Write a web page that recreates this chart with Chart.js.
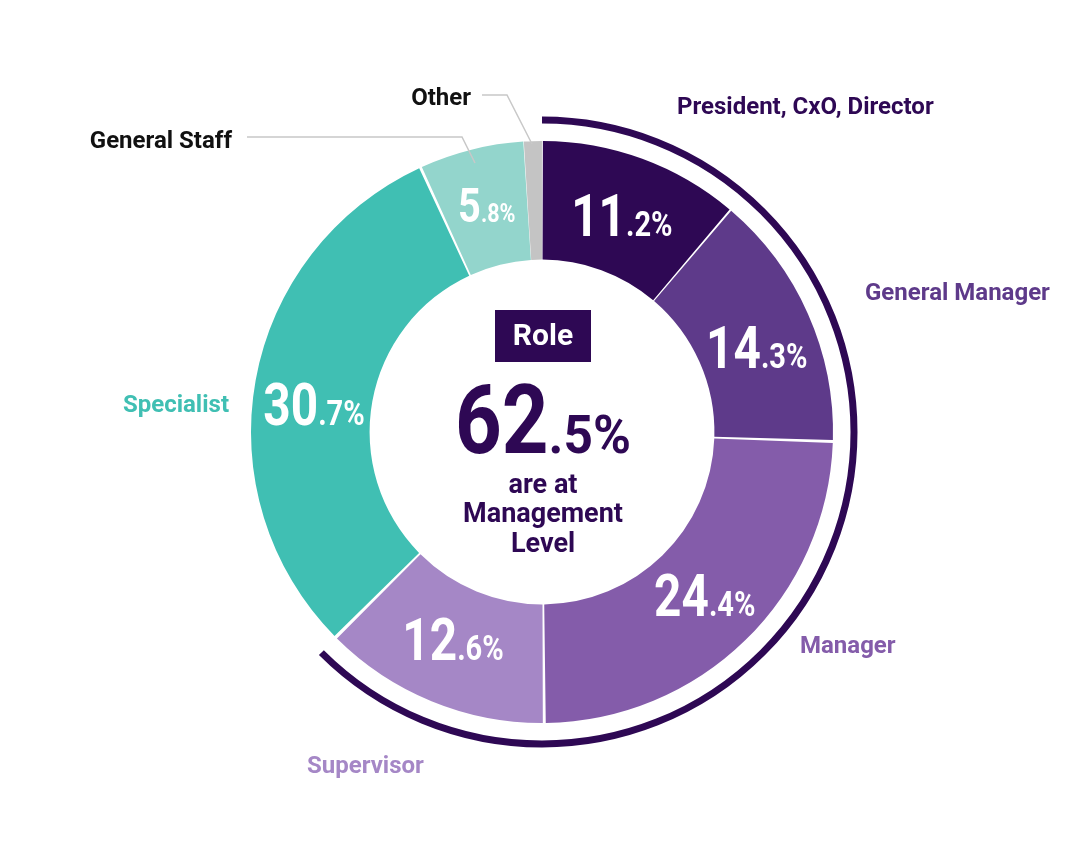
<!DOCTYPE html>
<html>
<head>
<meta charset="utf-8">
<script src="https://cdn.jsdelivr.net/npm/chart.js@4"></script>
<style>
  html, body { margin: 0; padding: 0; background: #fff; }
  #wrap { width: 1084px; height: 864px; }
</style>
</head>
<body>
<div id="wrap"><canvas id="roleChart" width="1084" height="864"></canvas></div>
<script>
// data
const roles = ["President, CxO, Director", "General Manager", "Manager", "Supervisor", "Specialist", "General Staff", "Other"];
const shares = [11.2, 14.3, 24.4, 12.6, 30.7, 5.8, 1.0];
const managementCount = 4; // first four roles are management
const colours = ["#2e0854", "#5e3a8a", "#845caa", "#a587c6", "#40bfb3", "#93d5cc", "#c4c4c4"];
const labelColours = ["#2e0854", "#5e3a8a", "#845caa", "#a587c6", "#40bfb3", "#111111", "#111111"];

const DARK = "#2e0854";
const FONT = "Roboto, 'Noto Sans', sans-serif";

// text placement of outside labels, relative to ring centre (x, baseline y, align)
const outLabels = [
  [135, -318, "left"],
  [323, -132, "left"],
  [258, 221, "left"],
  [-235, 341, "left"],
  [-313, -20, "right"],
  [-310, -284, "right"],
  [-71, -327, "right"]
];
// nudges for the value labels inside the ring (from the slice centroid)
const inNudge = [[0, 22], [3, 30], [1, 18], [-1, 14], [0, 34], [1, 15], [0, 0]];

// big number + small ".x%" in a squeezed bold face
function splitLabel(ctx, big, small, bigSize, smallSize, cx, base, colour, sqBig, sqSmall) {
  ctx.save();
  ctx.fillStyle = colour;
  ctx.textBaseline = "alphabetic";
  ctx.textAlign = "left";
  ctx.font = "bold " + bigSize + "px " + FONT;
  const wb = ctx.measureText(big).width * sqBig;
  ctx.font = "bold " + smallSize + "px " + FONT;
  const ws = ctx.measureText(small).width * sqSmall;
  const x0 = cx - (wb + ws) / 2;
  ctx.save();
  ctx.translate(x0, base);
  ctx.scale(sqBig, 1);
  ctx.font = "bold " + bigSize + "px " + FONT;
  ctx.fillText(big, 0, 0);
  ctx.restore();
  ctx.translate(x0 + wb, base);
  ctx.scale(sqSmall, 1);
  ctx.font = "bold " + smallSize + "px " + FONT;
  ctx.fillText(small, 0, 0);
  ctx.restore();
}

function parts(v) {
  const s = v.toFixed(1).split(".");
  return [s[0], "." + s[1] + "%"];
}

const decorPlugin = {
  id: "decor",
  afterDatasetsDraw(chart) {
    const ctx = chart.ctx;
    const arcs = chart.getDatasetMeta(0).data;
    const cx = arcs[0].x, cy = arcs[0].y;
    const outer = arcs[0].outerRadius;

    // bracket arc round the management roles
    ctx.save();
    ctx.strokeStyle = DARK;
    ctx.lineWidth = 7;
    ctx.beginPath();
    ctx.arc(cx, cy, outer + 23, arcs[0].startAngle, arcs[managementCount - 1].endAngle);
    ctx.stroke();
    ctx.restore();

    // values inside the ring
    arcs.forEach((arc, i) => {
      if (shares[i] < 3) return;
      const p = arc.tooltipPosition();
      const [big, small] = parts(shares[i]);
      const narrow = shares[i] < 10;
      splitLabel(ctx, big, small, narrow ? 49 : 59, narrow ? 26 : 35,
        p.x + inNudge[i][0], p.y + inNudge[i][1], "#ffffff", 0.81, 0.83);
    });

    // outside labels
    ctx.save();
    ctx.font = "bold 24px " + FONT;
    ctx.textBaseline = "alphabetic";
    roles.forEach((r, i) => {
      ctx.fillStyle = labelColours[i];
      ctx.textAlign = outLabels[i][2];
      ctx.fillText(r, cx + outLabels[i][0], cy + outLabels[i][1]);
    });
    ctx.restore();

    // leader lines for the thin slices
    ctx.save();
    ctx.strokeStyle = "#c8c8c8";
    ctx.lineWidth = 1.5;
    ctx.beginPath();
    ctx.moveTo(cx - 295, cy - 295);
    ctx.lineTo(cx - 80, cy - 295);
    ctx.lineTo(cx - 67, cy - 269);
    ctx.moveTo(cx - 60, cy - 337);
    ctx.lineTo(cx - 35, cy - 337);
    ctx.lineTo(cx - 10, cy - 288);
    ctx.stroke();
    ctx.restore();

    // centre block
    const mgmt = shares.slice(0, managementCount).reduce((a, b) => a + b, 0);
    ctx.save();
    ctx.fillStyle = DARK;
    ctx.fillRect(cx - 47, cy - 122, 96, 52);
    ctx.fillStyle = "#ffffff";
    ctx.font = "bold 30px " + FONT;
    ctx.textAlign = "center";
    ctx.textBaseline = "middle";
    ctx.fillText("Role", cx + 1, cy - 95);
    ctx.restore();
    const [mb, ms] = parts(mgmt);
    splitLabel(ctx, mb, ms, 96, 53, cx + 1, cy + 21, DARK, 0.85, 0.97);
    ctx.save();
    ctx.fillStyle = DARK;
    ctx.font = "bold 27px " + FONT;
    ctx.textAlign = "center";
    ctx.fillText("are at", cx + 1, cy + 61);
    ctx.fillText("Management", cx + 1, cy + 90);
    ctx.fillText("Level", cx + 1, cy + 120);
    ctx.restore();
  }
};

function build() {
  new Chart(document.getElementById("roleChart"), {
    type: "doughnut",
    data: {
      labels: roles,
      datasets: [{
        data: shares,
        backgroundColor: colours,
        borderWidth: 0,
        spacing: 4
      }]
    },
    options: {
      responsive: false,
      animation: false,
      radius: 289,
      cutout: 171,
      layout: { padding: { left: 250, right: 250, top: 140, bottom: 140 } },
      plugins: { legend: { display: false }, tooltip: { enabled: false } }
    },
    plugins: [decorPlugin]
  });
}

if (document.fonts && document.fonts.load) {
  document.fonts.load("bold 22px Roboto").then(build, build);
} else {
  build();
}
</script>
</body>
</html>
